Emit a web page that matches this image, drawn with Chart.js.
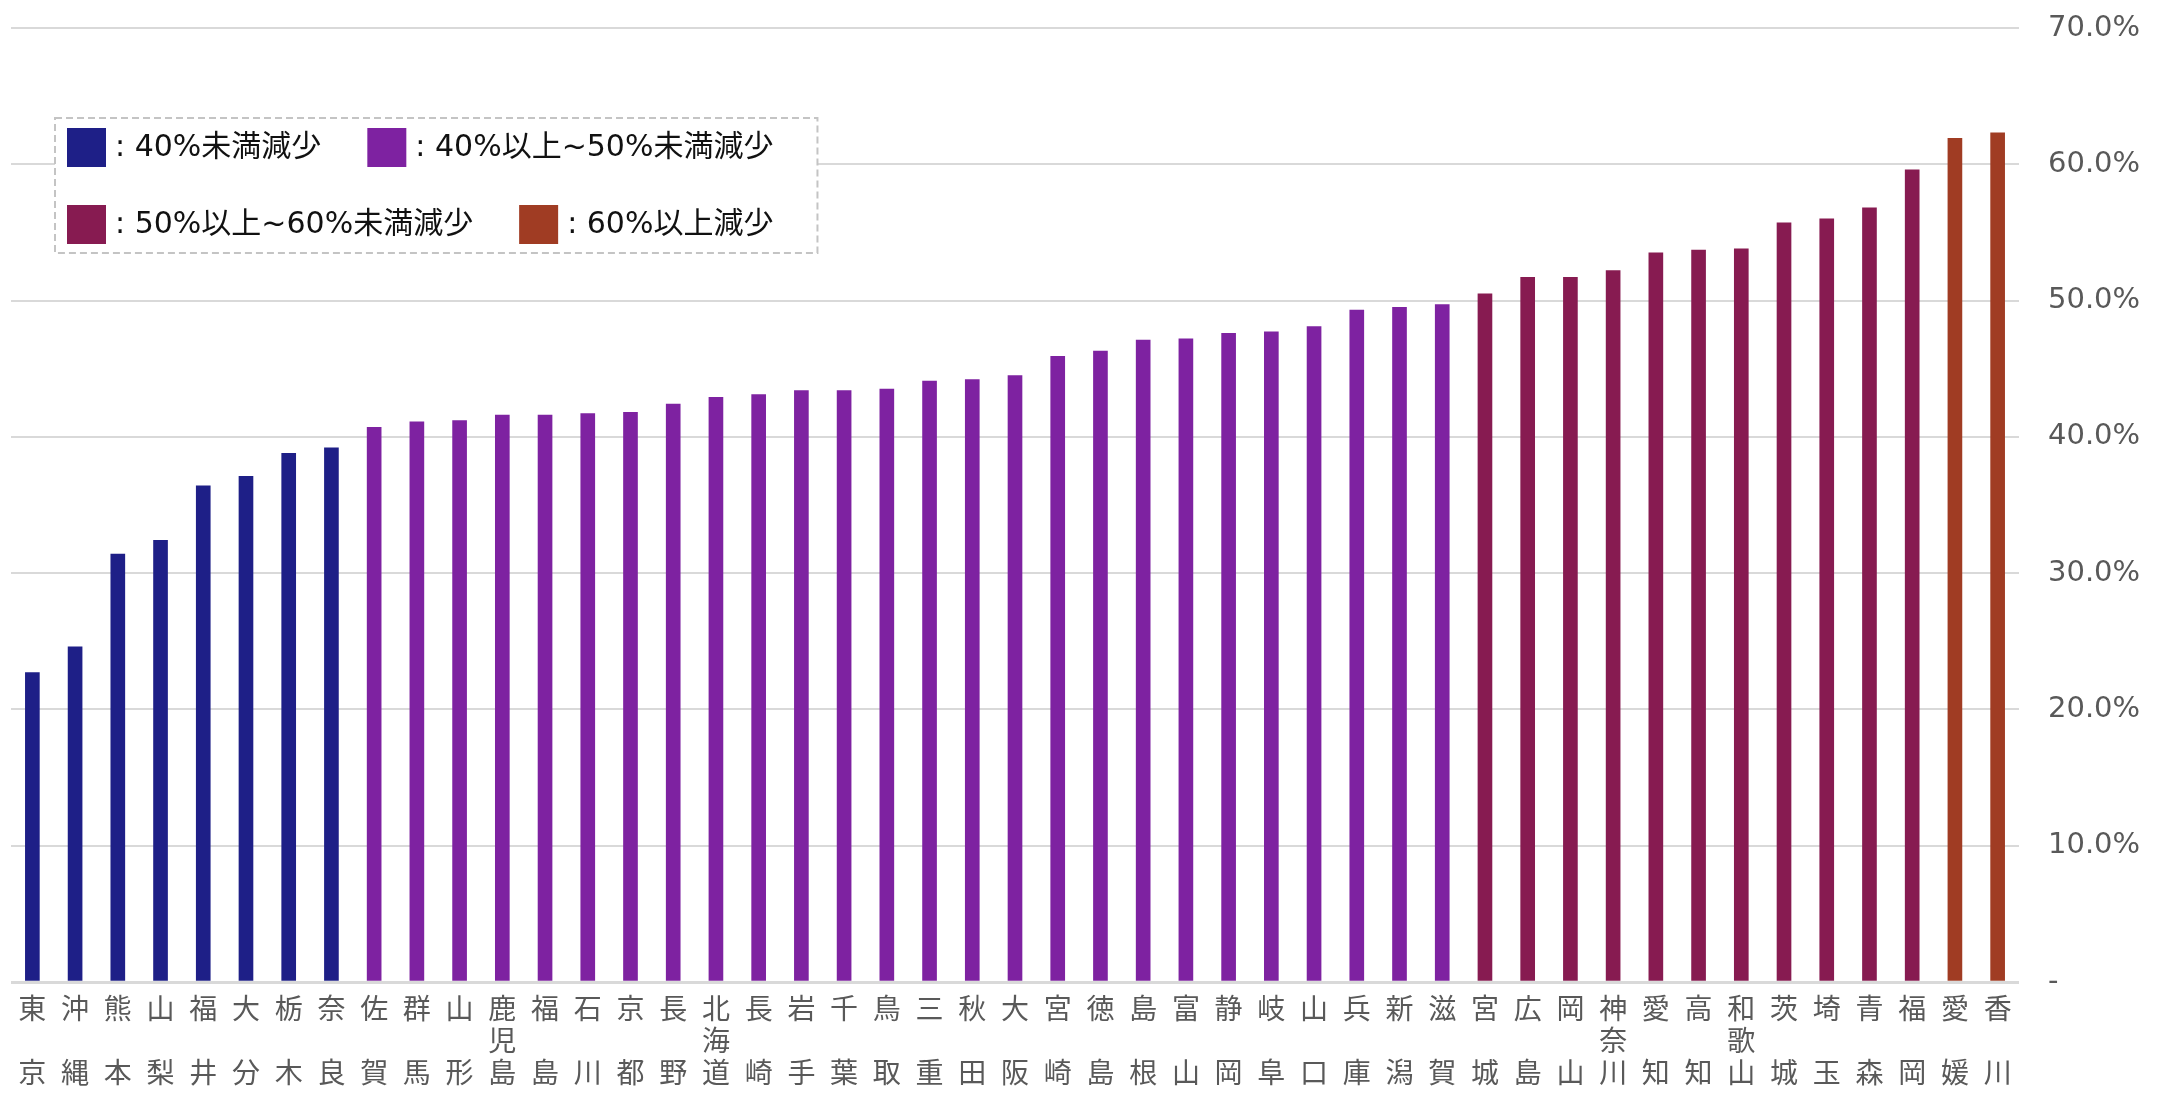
<!DOCTYPE html>
<html lang="ja">
<head>
<meta charset="utf-8">
<title>都道府県別 減少率</title>
<script src="https://cdn.jsdelivr.net/npm/chart.js@4/dist/chart.umd.min.js"></script>
<style>
  html, body { margin: 0; padding: 0; background: #ffffff; }
  #wrap { width: 2157px; height: 1096px; position: relative; }
</style>
</head>
<body>
<div id="wrap"><canvas id="chart" width="2157" height="1096"></canvas></div>
<script>
// Prefectures, sorted by rate of decrease
const prefectures = [
  '東京', '沖縄', '熊本', '山梨', '福井', '大分', '栃木', '奈良', '佐賀', '群馬',
  '山形', '鹿児島', '福島', '石川', '京都', '長野', '北海道', '長崎', '岩手', '千葉',
  '鳥取', '三重', '秋田', '大阪', '宮崎', '徳島', '島根', '富山', '静岡', '岐阜',
  '山口', '兵庫', '新潟', '滋賀', '宮城', '広島', '岡山', '神奈川', '愛知', '高知',
  '和歌山', '茨城', '埼玉', '青森', '福岡', '愛媛', '香川'
];

// Rate of decrease (%)
const decreaseRates = [
  22.7, 24.6, 31.4, 32.4, 36.4, 37.1, 38.8, 39.2, 40.7, 41.1,
  41.2, 41.6, 41.6, 41.7, 41.8, 42.4, 42.9, 43.1, 43.4, 43.4,
  43.5, 44.1, 44.2, 44.5, 45.9, 46.3, 47.1, 47.2, 47.6, 47.7,
  48.1, 49.3, 49.5, 49.7, 50.5, 51.7, 51.7, 52.2, 53.5, 53.7,
  53.8, 55.7, 56.0, 56.8, 59.6, 61.9, 62.3
];

// Bands of decrease: upper bound, colour and legend text
const bandLimits = [40, 50, 60, Infinity];
const bandColors = ['#1e1f87', '#7e22a1', '#871b51', '#a03c23'];
const bandLabels = [
  ': 40%未満減少',
  ': 40%以上~50%未満減少',
  ': 50%以上~60%未満減少',
  ': 60%以上減少'
];

// Y axis tick values
const yTicks = [0, 10, 20, 30, 40, 50, 60, 70];

function bandOf(v) {
  return bandLimits.findIndex(limit => v < limit);
}

// Vertical labels: two-character names keep the middle line empty
function verticalLabel(name) {
  const chars = Array.from(name);
  return chars.length === 2 ? [chars[0], '', chars[1]] : chars;
}

const gray = '#595959';
const gridColor = '#d9d9d9';

// Dashed legend box drawn over the plot area
const bandLegend = {
  id: 'bandLegend',
  afterDatasetsDraw(chart) {
    const ctx = chart.ctx;
    const area = chart.chartArea;
    const boxX = area.left + 44;
    const boxY = 118;
    const sw = 39;
    const padL = 12;
    const rowY = [boxY + 29.5, boxY + 106.5];
    const itemGap = 46;
    ctx.save();
    ctx.font = '30px "DejaVu Sans", "Noto Sans CJK JP"';
    ctx.textBaseline = 'middle';
    ctx.textAlign = 'left';
    const rows = [[0, 1], [2, 3]];
    let maxRight = 0;
    const placed = [];
    rows.forEach((row, r) => {
      let x = boxX + padL;
      row.forEach(i => {
        const tw = ctx.measureText(bandLabels[i]).width;
        placed.push({ i, x, y: rowY[r] });
        x += sw + 9 + tw + itemGap;
      });
      maxRight = Math.max(maxRight, x - itemGap);
    });
    const boxW = maxRight - boxX + 44;
    const boxH = 135;
    ctx.fillStyle = '#ffffff';
    ctx.fillRect(boxX, boxY, boxW, boxH);
    ctx.setLineDash([7, 4]);
    ctx.lineWidth = 2;
    ctx.strokeStyle = '#c4c4c4';
    ctx.strokeRect(boxX, boxY, boxW, boxH);
    ctx.setLineDash([]);
    placed.forEach(p => {
      ctx.fillStyle = bandColors[p.i];
      ctx.fillRect(p.x, p.y - sw / 2, sw, sw);
      ctx.fillStyle = '#111111';
      ctx.fillText(bandLabels[p.i], p.x + sw + 9, p.y + 1);
    });
    ctx.restore();
  }
};

new Chart(document.getElementById('chart'), {
  type: 'bar',
  data: {
    labels: prefectures,
    datasets: [{
      data: decreaseRates,
      backgroundColor: decreaseRates.map(v => bandColors[bandOf(v)]),
      borderWidth: 0,
      barThickness: 14
    }]
  },
  options: {
    responsive: false,
    animation: false,
    devicePixelRatio: 1,
    layout: { padding: { left: 11, right: 18, top: 28, bottom: -2 } },
    plugins: {
      legend: { display: false },
      tooltip: { enabled: false }
    },
    scales: {
      x: {
        grid: { display: false, drawTicks: false },
        border: { display: false },
        ticks: {
          autoSkip: false,
          maxRotation: 0,
          minRotation: 0,
          padding: 10,
          color: gray,
          font: { family: '"Noto Sans CJK JP"', size: 28, lineHeight: '32px' },
          callback: function (value, index) {
            return verticalLabel(prefectures[index]);
          }
        }
      },
      y: {
        position: 'right',
        min: yTicks[0],
        max: yTicks[yTicks.length - 1],
        afterBuildTicks: axis => { axis.ticks = yTicks.map(v => ({ value: v })); },
        afterFit: axis => {
          axis.width = 120;
          axis.paddingTop = 0;
          axis.paddingBottom = 0;
        },
        grid: {
          color: gridColor,
          lineWidth: ctx => (ctx.tick && ctx.tick.value === 0 ? 3 : 2),
          drawTicks: false
        },
        border: { display: false },
        ticks: {
          padding: 29,
          color: gray,
          font: { family: '"DejaVu Sans"', size: 29 },
          callback: v => (v === 0 ? '-' : v.toFixed(1) + '%')
        }
      }
    }
  },
  plugins: [bandLegend]
});
</script>
</body>
</html>
